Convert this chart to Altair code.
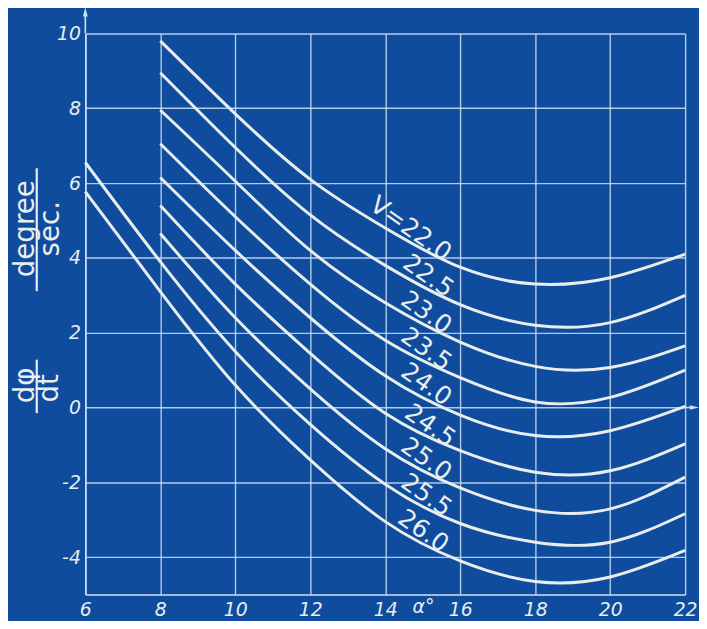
import altair as alt
import pandas as pd

# ---- data read from the blueprint ----
x_vals = [6, 8, 10, 12, 14, 16, 18, 20, 22]
v_names = ["22.0", "22.5", "23.0", "23.5", "24.0", "24.5", "25.0", "25.5", "26.0"]
v_220 = [None, 9.8, 7.85, 6.1, 4.8, 3.75, 3.3, 3.47, 4.1]
v_225 = [None, 8.95, 6.95, 5.15, 3.8, 2.75, 2.2, 2.27, 3.0]
v_230 = [None, 7.95, 6.05, 4.2, 2.8, 1.75, 1.1, 1.07, 1.65]
v_235 = [None, 7.05, 5.1, 3.3, 1.8, 0.8, 0.15, 0.27, 1.0]
v_240 = [None, 6.15, 4.2, 2.4, 0.85, -0.2, -0.75, -0.62, 0.03]
v_245 = [None, 5.4, 3.3, 1.45, -0.15, -1.15, -1.73, -1.69, -0.97]
v_250 = [None, 4.65, 2.4, 0.5, -1.1, -2.15, -2.75, -2.71, -1.86]
v_255 = [6.55, 3.9, 1.5, -0.45, -2.05, -3.1, -3.6, -3.6, -2.84]
v_260 = [5.77, 3.1, 0.6, -1.4, -3.05, -4.1, -4.65, -4.53, -3.82]

label_text = ["V=22.0", "22.5", "23.0", "23.5", "24.0", "24.5", "25.0", "25.5", "26.0"]
label_x = [14.68, 15.15, 15.1, 15.1, 15.1, 15.2, 15.1, 15.1, 15.02]
label_y = [4.78, 3.52, 2.54, 1.56, 0.62, -0.48, -1.38, -2.34, -3.3]

x_ticks = [6, 8, 10, 12, 14, 16, 18, 20, 22]
y_ticks = [-4, -2, 0, 2, 4, 6, 8, 10]

# ---- tables ----
series = [v_220, v_225, v_230, v_235, v_240, v_245, v_250, v_255, v_260]
rows = []
for name, vals in zip(v_names, series):
    for xv, yv in zip(x_vals, vals):
        if yv is not None:
            rows.append({"alpha": xv, "rate": yv, "V": name})
curves = pd.DataFrame(rows)
labels = pd.DataFrame({"alpha": label_x, "rate": label_y, "txt": label_text})

shaft = pd.DataFrame({"alpha": [6, 22], "alpha2": [6, 22.2], "rate": [10, 0], "rate2": [10.5, 0]})
heads = pd.DataFrame({
    "alpha": [6, 22.22],
    "rate": [10.55, 0],
    "shp": ["M0,-1L0.4,0.6L-0.4,0.6Z", "M1,0L-0.6,0.4L-0.6,-0.4Z"],
})

BG = "#0f4c9e"
INK = "#e8eeee"
GRID = "#cfe0f0"

xs = alt.Scale(domain=[6, 22], nice=False, zero=False)
ys = alt.Scale(domain=[-5, 10], nice=False, zero=False)
xaxis = alt.Axis(values=x_ticks, title=None, labelFlush=False, labelOverlap=False,
                 labelPadding=6, labelExpr="'' + datum.value")
yaxis = alt.Axis(values=y_ticks, title=None, labelOverlap=False, labelPadding=5,
                 labelExpr="'' + datum.value")

X = lambda f="alpha": alt.X(f"{f}:Q", scale=xs, axis=xaxis)
Y = lambda f="rate": alt.Y(f"{f}:Q", scale=ys, axis=yaxis)

lines = alt.Chart(curves).mark_line(interpolate="natural", strokeWidth=3, color=INK).encode(
    x=X(), y=Y(), detail="V:N"
)
texts = alt.Chart(labels).mark_text(
    angle=35, font="DejaVu Sans", fontSize=25, color=INK, align="center", baseline="middle"
).encode(x=X(), y=Y(), text="txt:N")

shafts = alt.Chart(shaft).mark_rule(color=GRID, strokeWidth=1.6).encode(
    x=X(), x2="alpha2:Q", y=Y(), y2="rate2:Q"
)
arrowheads = alt.Chart(heads).mark_point(filled=True, color=GRID, size=140, opacity=1).encode(
    x=X(), y=Y(), shape=alt.Shape("shp:N", scale=None, legend=None)
)

# y-axis title pieces (two fractions, rotated) and x-axis title
tfont = "DejaVu Sans"
title_parts = pd.DataFrame({
    "t": ["degree", "sec.", "dφ", "dt"],
    "px": [-60, -35, -60, -36],
    "py": [197, 197, 355, 358],
})
ytitle = alt.Chart(title_parts).mark_text(
    angle=270, font=tfont, fontSize=28, color=INK, align="center", baseline="middle"
).encode(x=alt.X("px:Q", scale=None, axis=None), y=alt.Y("py:Q", scale=None, axis=None), text="t:N")

bars = pd.DataFrame({"bx": [-49, -49], "by": [136, 329], "by2": [260, 383]})
fracbars = alt.Chart(bars).mark_rule(color=INK, strokeWidth=2.2).encode(
    x=alt.X("bx:Q", scale=None, axis=None),
    y=alt.Y("by:Q", scale=None, axis=None),
    y2="by2:Q",
)

xt = pd.DataFrame({"t": ["α°"], "px": [341], "py": [589]})
xtitle = alt.Chart(xt).mark_text(
    font=tfont, fontSize=19, fontStyle="italic", color=INK, align="center", baseline="bottom"
).encode(x=alt.X("px:Q", scale=None, axis=None), y=alt.Y("py:Q", scale=None, axis=None), text="t:N")

chart = alt.layer(lines, texts, shafts, arrowheads, ytitle, fracbars, xtitle).properties(
    width=605,
    height=566,
    autosize=alt.AutoSizeParams(type="none"),
    padding={"left": 78, "top": 23, "right": 14, "bottom": 24},
    background=BG,
).configure_view(
    fill=BG, stroke=None
).configure_axis(
    grid=True,
    gridColor=GRID,
    gridWidth=1.4,
    gridOpacity=0.85,
    domainColor=GRID,
    domainWidth=1.6,
    ticks=False,
    labelColor=INK,
    labelFont="DejaVu Sans",
    labelFontSize=19,
    labelFontStyle="italic",
)

chart.save("out.html", embed_options={"renderer": "svg", "actions": False})
